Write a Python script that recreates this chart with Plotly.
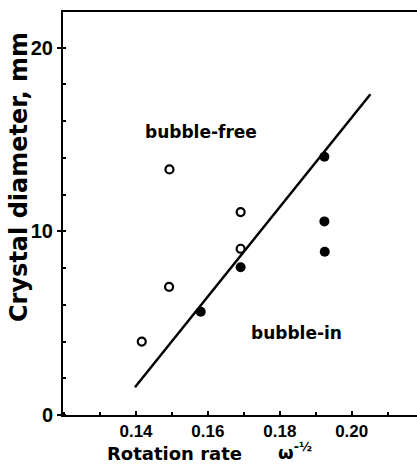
import plotly.graph_objects as go

# Data
free_x = [0.1416, 0.1493, 0.1492, 0.1691, 0.1691]
free_y = [4.0, 13.37, 6.98, 11.05, 9.05]
in_x = [0.1580, 0.1691, 0.1924, 0.1924, 0.1925]
in_y = [5.62, 8.04, 14.06, 10.54, 8.89]
fit_x = [0.1397, 0.2052]
fit_y = [1.51, 17.46]
x_tickvals = [0.14, 0.16, 0.18, 0.20]
x_ticktext = ["0.14", "0.16", "0.18", "0.20"]
y_tickvals = [0, 10, 20]
y_ticktext = ["0", "10", "20"]
region_labels = ["bubble-free", "bubble-in"]
region_x = [0.1581, 0.1846]
region_y = [15.4, 4.45]

L, T, B, W, H = 63, 12, 50, 417, 465
PW, PH = W - L, H - T - B

fig = go.Figure()
fig.add_trace(go.Scatter(x=fit_x, y=fit_y, mode="lines",
                         line=dict(color="black", width=2.5), showlegend=False))
fig.add_trace(go.Scatter(x=free_x, y=free_y, mode="markers",
                         marker=dict(symbol="circle-open", size=8, color="black",
                                     line=dict(width=2.2, color="black")),
                         showlegend=False))
fig.add_trace(go.Scatter(x=in_x, y=in_y, mode="markers",
                         marker=dict(symbol="circle", size=10, color="black"),
                         showlegend=False))

for t, xx, yy in zip(region_labels, region_x, region_y):
    fig.add_annotation(x=xx, y=yy, text=t, showarrow=False,
                       font=dict(family="DejaVu Sans", size=17, color="black", weight="bold"))

fig.add_annotation(xref="paper", yref="paper", x=(19 - L) / PW, y=(T + PH - 177) / PH,
                   text="Crystal diameter, mm", textangle=-90, showarrow=False,
                   xanchor="center", yanchor="middle",
                   font=dict(family="DejaVu Sans", size=24, color="black", weight="bold"))
fig.add_annotation(xref="paper", yref="paper", x=(174.5 - L) / PW, y=(T + PH - 454) / PH,
                   text="Rotation rate", showarrow=False, xanchor="center", yanchor="middle",
                   font=dict(family="DejaVu Sans", size=18, color="black", weight="bold"))
fig.add_annotation(xref="paper", yref="paper", x=(295 - L) / PW, y=(T + PH - 451) / PH,
                   text="ω<sup>-½</sup>", showarrow=False, xanchor="center", yanchor="middle",
                   font=dict(family="DejaVu Sans", size=18, color="black", weight="bold"))

fig.update_layout(
    width=W, height=H,
    margin=dict(l=L, r=0, t=T, b=B, pad=0, autoexpand=False),
    paper_bgcolor="white", plot_bgcolor="white",
    xaxis=dict(range=[0.11969, 0.21816], tickvals=x_tickvals, ticktext=x_ticktext,
               automargin=False,
               ticks="inside", ticklen=4, tickwidth=1.5, tickcolor="black",
               minor=dict(dtick=0.01, tick0=0.13, ticks="inside", ticklen=3, tickcolor="black"),
               showline=True, linecolor="black", linewidth=2, mirror=True,
               showgrid=False, zeroline=False,
               tickfont=dict(family="Liberation Sans", size=17, color="black", weight="bold")),
    yaxis=dict(range=[0, 21.94], tickvals=y_tickvals, ticktext=y_ticktext,
               automargin=False,
               ticks="outside", ticklen=4, tickwidth=1.5, tickcolor="black",
               minor=dict(dtick=2, ticks="inside", ticklen=3, tickcolor="black"),
               showline=True, linecolor="black", linewidth=2, mirror=False,
               showgrid=False, zeroline=False,
               tickfont=dict(family="Liberation Sans", size=20, color="black", weight="bold")),
)

fig.write_html("out.html", config={"displayModeBar": False},
               post_script="document.body.style.margin='0';")
